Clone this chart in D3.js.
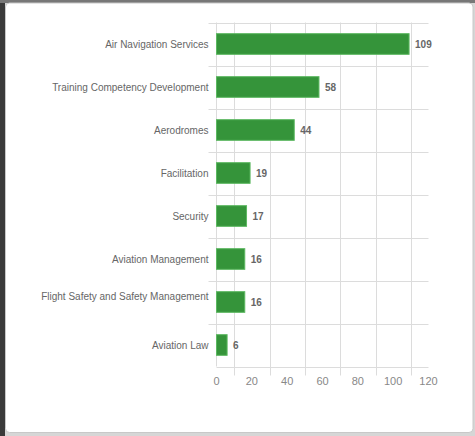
<!DOCTYPE html>
<html>
<head>
<meta charset="utf-8">
<script src="https://cdn.jsdelivr.net/npm/d3@7"></script>
<style>
  html, body { margin: 0; padding: 0; background: #d9d9d9; }
  svg { display: block; font-family: "Liberation Sans", Arial, sans-serif; }
</style>
</head>
<body>
<div id="chart"></div>
<script>
// categories and counts
const categories = [
  "Air Navigation Services",
  "Training Competency Development",
  "Aerodromes",
  "Facilitation",
  "Security",
  "Aviation Management",
  "Flight Safety and Safety Management",
  "Aviation Law"
];
const counts = [109, 58, 44, 19, 17, 16, 16, 6];
const xTicks = [0, 20, 40, 60, 80, 100, 120];
const gridValues = [10, 30, 50, 70, 90, 110];

const W = 475, H = 436;
const plot = { left: 216.5, right: 428.5, top: 22.5, bottom: 366.5 };

const svg = d3.select("#chart").append("svg")
  .attr("width", W)
  .attr("height", H);

// page frame around the card
svg.append("rect").attr("x", 0).attr("y", 0).attr("width", W).attr("height", H).attr("fill", "#d6d6d6");
svg.append("rect").attr("x", 0).attr("y", 0).attr("width", 5).attr("height", H).attr("fill", "#3a3a3a");
svg.append("rect").attr("x", 0).attr("y", 0).attr("width", W).attr("height", 3).attr("fill", "#777");
svg.append("rect")
  .attr("x", 5.5).attr("y", 3)
  .attr("width", 467.5).attr("height", 429.5)
  .attr("rx", 4)
  .attr("fill", "#fff")
  .attr("stroke", "#c8c8c8");

const x = d3.scaleLinear().domain([0, 120]).range([plot.left, plot.right]);
const y = d3.scaleBand().domain(categories).range([plot.top, plot.bottom]).paddingInner(0.52).paddingOuter(0.26);

const bandEdges = d3.range(categories.length + 1).map(i => plot.top + i * (plot.bottom - plot.top) / categories.length);

// vertical grid lines (offset between ticks)
svg.append("g").selectAll("line")
  .data(gridValues)
  .join("line")
  .attr("x1", d => Math.round(x(d)) + 0.5)
  .attr("x2", d => Math.round(x(d)) + 0.5)
  .attr("y1", plot.top)
  .attr("y2", plot.bottom + 9)
  .attr("stroke", "#dcdcdc");

// horizontal grid lines between categories
svg.append("g").selectAll("line")
  .data(bandEdges)
  .join("line")
  .attr("x1", (d, i) => i === categories.length ? plot.left : plot.left - 8)
  .attr("x2", plot.right)
  .attr("y1", d => Math.round(d) + 0.5)
  .attr("y2", d => Math.round(d) + 0.5)
  .attr("stroke", "#dcdcdc");

// left axis line
svg.append("line")
  .attr("x1", plot.left).attr("x2", plot.left)
  .attr("y1", plot.top).attr("y2", plot.bottom)
  .attr("stroke", "#dcdcdc");

// bars
svg.append("g").selectAll("rect")
  .data(categories)
  .join("rect")
  .attr("x", x(0))
  .attr("y", d => y(d))
  .attr("width", (d, i) => x(counts[i]) - x(0))
  .attr("height", y.bandwidth())
  .attr("fill", "#35943a")
  .attr("stroke", "#5cb860")
  .attr("stroke-width", 1);

// value labels
svg.append("g").selectAll("text")
  .data(categories)
  .join("text")
  .attr("x", (d, i) => x(counts[i]) + 6)
  .attr("y", d => y(d) + y.bandwidth() / 2)
  .attr("dy", "0.35em")
  .attr("font-size", 10)
  .attr("font-weight", "bold")
  .attr("fill", "#666")
  .text((d, i) => counts[i]);

// category labels
svg.append("g").selectAll("text")
  .data(categories)
  .join("text")
  .attr("x", plot.left - 8)
  .attr("y", d => y(d) + y.bandwidth() / 2)
  .attr("dy", d => d.length > 32 ? "-0.25em" : "0.35em")
  .attr("text-anchor", "end")
  .attr("font-size", 10)
  .attr("fill", "#666")
  .text(d => d);

// x tick labels
svg.append("g").selectAll("text")
  .data(xTicks)
  .join("text")
  .attr("x", d => x(d))
  .attr("y", plot.bottom + 15)
  .attr("dy", "0.35em")
  .attr("text-anchor", "middle")
  .attr("font-size", 11)
  .attr("fill", "#888")
  .text(d => d);
</script>
</body>
</html>
